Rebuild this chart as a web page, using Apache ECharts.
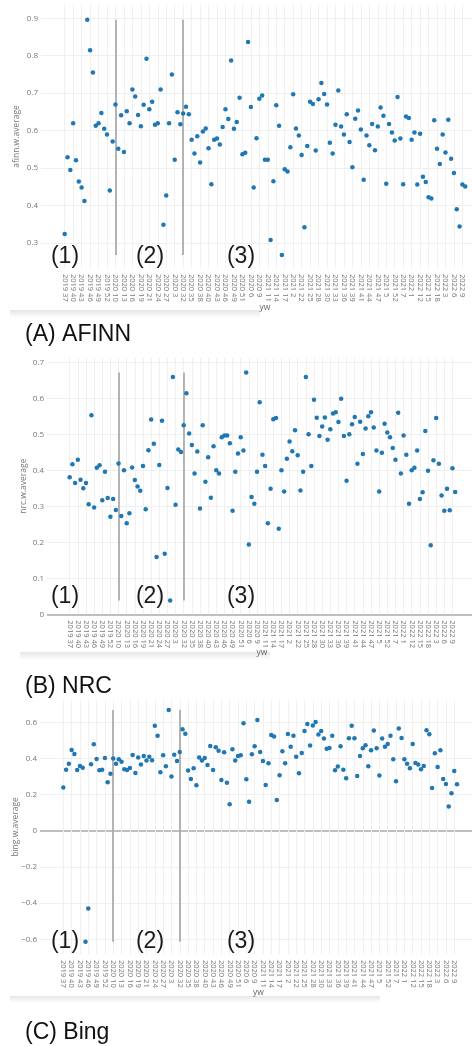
<!DOCTYPE html>
<html>
<head>
<meta charset="utf-8">
<title>weekly sentiment averages</title>
<script src="https://cdn.jsdelivr.net/npm/echarts@6/dist/echarts.min.js"></script>
<style>
  html, body { margin: 0; padding: 0; background: #fff; }
  #chart { width: 472px; height: 1046px; }
</style>
</head>
<body>
<div id="chart"></div>
<script>
// year-week categories, in the (string) order of the original x axis
var categories = [
  '2019 37', '2019 38', '2019 39', '2019 40', '2019 41', '2019 42', '2019 43', '2019 44', '2019 45', '2019 46',
  '2019 47', '2019 48', '2019 49', '2019 50', '2019 51', '2019 52', '2019 53',
  '2020 1', '2020 10', '2020 11', '2020 12', '2020 13', '2020 14', '2020 15', '2020 16', '2020 17', '2020 18', '2020 19',
  '2020 2', '2020 20', '2020 21', '2020 22', '2020 23', '2020 24', '2020 25', '2020 26', '2020 27', '2020 28', '2020 29',
  '2020 3', '2020 30', '2020 31', '2020 32', '2020 33', '2020 34', '2020 35', '2020 36', '2020 37', '2020 38', '2020 39',
  '2020 4', '2020 40', '2020 41', '2020 42', '2020 43', '2020 44', '2020 45', '2020 46', '2020 47', '2020 48', '2020 49',
  '2020 5', '2020 50', '2020 51', '2020 52', '2020 53', '2020 6', '2020 7', '2020 8', '2020 9',
  '2021 1', '2021 10', '2021 11', '2021 12', '2021 13', '2021 14', '2021 15', '2021 16', '2021 17', '2021 18', '2021 19',
  '2021 2', '2021 20', '2021 21', '2021 22', '2021 23', '2021 24', '2021 25', '2021 26', '2021 27', '2021 28', '2021 29',
  '2021 3', '2021 30', '2021 31', '2021 32', '2021 33', '2021 34', '2021 35', '2021 36', '2021 37', '2021 38', '2021 39',
  '2021 4', '2021 40', '2021 41', '2021 42', '2021 43', '2021 44', '2021 45', '2021 46', '2021 47', '2021 48', '2021 49',
  '2021 5', '2021 50', '2021 51', '2021 52', '2021 53', '2021 6', '2021 7', '2021 8', '2021 9',
  '2022 1', '2022 10', '2022 11', '2022 12', '2022 13', '2022 14', '2022 15', '2022 16', '2022 17', '2022 18', '2022 19',
  '2022 2', '2022 3', '2022 4', '2022 5', '2022 6', '2022 7', '2022 8', '2022 9',
  'NA NA'
]

var afinnValues = [
  0.324, 0.529, 0.495, 0.620, 0.521, 0.464, 0.448, 0.412, 0.896, 0.815,
  0.755, 0.613, 0.620, 0.647, 0.605, 0.590, 0.440, 0.571, 0.670, 0.552,
  0.641, 0.543, 0.652, 0.620, 0.710, 0.691, 0.642, 0.612, 0.669, 0.792,
  0.657, 0.677, 0.616, 0.620, 0.710, 0.349, 0.427, 0.620, 0.750, 0.522,
  0.649, 0.617, 0.646, 0.664, 0.644, 0.576, 0.539, 0.585, 0.515, 0.598,
  0.606, 0.553, 0.457, 0.576, 0.579, 0.563, 0.610, 0.657, 0.631, 0.787,
  0.605, 0.623, 0.688, 0.537, 0.541, 0.837, 0.663, 0.448, 0.580, 0.685,
  0.694, 0.522, 0.522, 0.308, 0.465, 0.668, 0.613, 0.268, 0.497, 0.491,
  0.556, 0.697, 0.606, 0.587, 0.535, 0.342, 0.559, 0.677, 0.671, 0.547,
  0.684, 0.727, 0.698, 0.670, 0.568, 0.539, 0.616, 0.707, 0.611, 0.590,
  0.644, 0.570, 0.502, 0.632, 0.654, 0.603, 0.469, 0.587, 0.561, 0.618,
  0.548, 0.611, 0.662, 0.640, 0.458, 0.618, 0.595, 0.574, 0.690, 0.579,
  0.457, 0.638, 0.634, 0.576, 0.595, 0.456, 0.592, 0.477, 0.463, 0.422,
  0.419, 0.628, 0.552, 0.511, 0.590, 0.542, 0.629, 0.525, 0.487, 0.390,
  0.344, 0.456, 0.451
]

var nrcValues = [
  0.381, 0.417, 0.365, 0.429, 0.374, 0.350, 0.365, 0.306, 0.553, 0.297,
  0.407, 0.414, 0.317, 0.396, 0.323, 0.271, 0.320, 0.290, 0.419, 0.273,
  0.400, 0.253, 0.281, 0.408, 0.373, 0.355, 0.343, 0.412, 0.292, 0.456,
  0.541, 0.474, 0.159, 0.415, 0.538, 0.168, 0.351, 0.038, 0.659, 0.304,
  0.458, 0.451, 0.525, 0.614, 0.502, 0.470, 0.391, 0.452, 0.294, 0.525,
  0.368, 0.436, 0.324, 0.467, 0.400, 0.391, 0.492, 0.497, 0.497, 0.475,
  0.288, 0.396, 0.447, 0.492, 0.455, 0.672, 0.194, 0.326, 0.307, 0.396,
  0.589, 0.443, 0.412, 0.253, 0.349, 0.542, 0.545, 0.238, 0.400, 0.341,
  0.432, 0.480, 0.453, 0.511, 0.442, 0.344, 0.396, 0.659, 0.500, 0.412,
  0.596, 0.546, 0.495, 0.522, 0.547, 0.485, 0.514, 0.558, 0.561, 0.534,
  0.599, 0.495, 0.371, 0.500, 0.528, 0.548, 0.418, 0.535, 0.445, 0.516,
  0.550, 0.561, 0.519, 0.455, 0.341, 0.449, 0.529, 0.505, 0.492, 0.462,
  0.429, 0.560, 0.391, 0.497, 0.443, 0.307, 0.400, 0.407, 0.455, 0.320,
  0.339, 0.509, 0.399, 0.192, 0.428, 0.545, 0.418, 0.330, 0.288, 0.349,
  0.289, 0.406, 0.340
]

var bingValues = [
  0.240, 0.338, 0.371, 0.447, 0.425, 0.336, 0.358, 0.349, -0.613, -0.429,
  0.368, 0.478, 0.397, 0.335, 0.338, 0.403, 0.268, 0.316, 0.400, 0.370,
  0.395, 0.382, 0.340, 0.336, 0.347, 0.419, 0.320, 0.405, 0.366, 0.414,
  0.388, 0.410, 0.390, 0.580, 0.526, 0.323, 0.418, 0.357, 0.668, 0.300,
  0.421, 0.386, 0.436, 0.561, 0.537, 0.333, 0.287, 0.346, 0.252, 0.405,
  0.388, 0.403, 0.364, 0.469, 0.336, 0.462, 0.443, 0.281, 0.434, 0.266,
  0.147, 0.451, 0.388, 0.414, 0.418, 0.594, 0.285, 0.161, 0.423, 0.467,
  0.613, 0.436, 0.386, 0.253, 0.373, 0.530, 0.521, 0.170, 0.307, 0.440,
  0.373, 0.535, 0.464, 0.526, 0.410, 0.318, 0.430, 0.552, 0.591, 0.471,
  0.582, 0.602, 0.532, 0.552, 0.510, 0.453, 0.458, 0.526, 0.335, 0.355,
  0.467, 0.338, 0.290, 0.512, 0.580, 0.512, 0.303, 0.414, 0.456, 0.473,
  0.357, 0.445, 0.554, 0.456, 0.305, 0.510, 0.464, 0.480, 0.526, 0.395,
  0.274, 0.565, 0.513, 0.395, 0.371, 0.346, 0.480, 0.375, 0.366, 0.340,
  0.358, 0.556, 0.534, 0.237, 0.429, 0.353, 0.445, 0.287, 0.259, 0.135,
  0.207, 0.330, 0.257
]

var afinnTicks = [0.3, 0.4, 0.5, 0.6, 0.7, 0.8, 0.9]
var nrcTicks = [0, 0.1, 0.2, 0.3, 0.4, 0.5, 0.6, 0.7]
var bingTicks = [-0.6, -0.4, -0.2, 0, 0.2, 0.4, 0.6]
var periodStarts = ['2020 10', '2020 32']
var periodLabels = ['(1)', '(2)', '(3)']
var panelTitles = ['(A) AFINN', '(B) NRC', '(C) Bing']

// every third week gets a label, as in the source plot
var labelIdx = []
for (var k = 0; k < categories.length; k += 3) labelIdx.push(k)

var panels = [
  { yName: 'afinn.w.average', values: afinnValues, ticks: afinnTicks, zero: false,
    left: 41, top: 5, height: 263, xMin: -8.4, xMax: 144.4, yMin: 0.2333, yMax: 0.9355,
    nameGap: 20, ywGap: 35, ywShift: 17, labelY: 257, titleY: 335 },
  { yName: 'nrc.w.average', values: nrcValues, ticks: nrcTicks, zero: true,
    left: 47, top: 358, height: 256.3, xMin: -8.36, xMax: 148.2, yMin: 0, yMax: 0.712,
    nameGap: 19, ywGap: 34, ywShift: 5, labelY: 597, titleY: 687 },
  { yName: 'bing.w.average', values: bingValues, ticks: bingTicks, zero: true,
    left: 40, top: 700, height: 254, xMin: -8.41, xMax: 147.4, yMin: -0.681, yMax: 0.723,
    nameGap: 20, ywGap: 34.5, ywShift: 5, labelY: 942, titleY: 1033 }
]

var fmtY = function (v) {
  var s = String(Math.round(Math.abs(v) * 10) / 10)
  return v < 0 ? '\u2212' + s : s
}

var grid = []
var xAxis = []
var yAxis = []
var series = []
var graphic = []

panels.forEach(function (p, n) {
  grid.push({ left: p.left, top: p.top, height: p.height, right: 0, outerBoundsMode: 'none' })
  xAxis.push({
    gridIndex: n, type: 'value', min: p.xMin, max: p.xMax,
    axisLine: { show: false }, axisTick: { show: false }, splitLine: { show: false },
    axisLabel: {
      customValues: labelIdx, rotate: -90, margin: 6,
      fontSize: 7.5, color: '#777', fontFamily: 'Open Sans',
      formatter: function (v) { return categories[v] }
    },
    name: 'yw', nameLocation: 'middle', nameGap: p.ywGap, nameMoveOverlap: false,
    nameTextStyle: { color: '#666', fontSize: 8.5, fontFamily: 'Open Sans', padding: [0, 0, 0, p.ywShift] }
  })
  yAxis.push({
    gridIndex: n, type: 'value', min: p.yMin, max: p.yMax,
    axisLine: { show: false }, axisTick: { show: false }, splitLine: { show: false },
    axisLabel: {
      customValues: p.ticks, margin: 3, fontSize: 8, color: '#777', fontFamily: 'Open Sans',
      formatter: fmtY
    },
    name: p.yName, nameLocation: 'middle', nameGap: p.nameGap, nameMoveOverlap: false,
    nameTextStyle: { color: '#777', fontSize: 8.5, fontFamily: 'Open Sans' }
  })

  // grid lines and zero line
  var lines = p.ticks.map(function (t) {
    var isZero = p.zero && t === 0
    return { yAxis: t, lineStyle: { color: isZero ? '#a8a8a8' : '#efefef', width: isZero ? 1.6 : 1, type: 'solid' } }
  })
  labelIdx.forEach(function (i) {
    lines.push({ xAxis: i, lineStyle: { color: '#f0f0f0', width: 1, type: 'solid' } })
  })
  series.push({
    type: 'scatter', xAxisIndex: n, yAxisIndex: n, data: [], z: 1, silent: true,
    markLine: { z: 1, silent: true, symbol: 'none', label: { show: false }, data: lines }
  })

  // period separators, drawn from the lowest to the highest weekly value
  var lo = Math.min.apply(null, p.values)
  var hi = Math.max.apply(null, p.values)
  series.push({
    type: 'scatter', xAxisIndex: n, yAxisIndex: n, data: [], z: 2, silent: true,
    markLine: {
      z: 2, silent: true, symbol: 'none', label: { show: false },
      lineStyle: { color: '#a3a3a3', width: 1.6, type: 'solid' },
      data: periodStarts.map(function (c) {
        var i = categories.indexOf(c)
        return [{ coord: [i, lo] }, { coord: [i, hi] }]
      })
    }
  })

  series.push({
    type: 'scatter', xAxisIndex: n, yAxisIndex: n, z: 10,
    symbolSize: 4.5, itemStyle: { color: '#1f77b4', opacity: 1 },
    data: p.values.map(function (v, i) { return [i, v] })
  })

  var labelX = [65, 150, 241]
  periodLabels.forEach(function (t, j) {
    graphic.push({
      type: 'text', silent: true, z: 20, x: labelX[j], y: p.labelY,
      style: { text: t, fill: '#1a1a1a', fontSize: 23, fontFamily: 'Liberation Sans', align: 'center', verticalAlign: 'middle' }
    })
  })
  graphic.push({
    type: 'text', silent: true, z: 20, x: 25, y: p.titleY,
    style: { text: panelTitles[n], fill: '#111', fontSize: 23, fontFamily: 'Liberation Sans', align: 'left', verticalAlign: 'middle' }
  })
})

// faint card shadows under each plot, as in the screenshot
var shade = function (x, y, w, h) {
  return {
    type: 'rect', silent: true, z: 0, shape: { x: x, y: y, width: w, height: h },
    style: { fill: new echarts.graphic.LinearGradient(0, 0, 0, 1, [{ offset: 0, color: '#e6e6e6' }, { offset: 1, color: '#ffffff' }]) }
  }
}
graphic.push(shade(10, 310, 250, 8))
graphic.push(shade(20, 652, 250, 8))
graphic.push(shade(10, 996, 370, 7))

var chart = echarts.init(document.getElementById('chart'))
chart.setOption({
  animation: false,
  backgroundColor: '#fff',
  grid: grid,
  xAxis: xAxis,
  yAxis: yAxis,
  series: series,
  graphic: graphic
})
</script>
</body>
</html>
